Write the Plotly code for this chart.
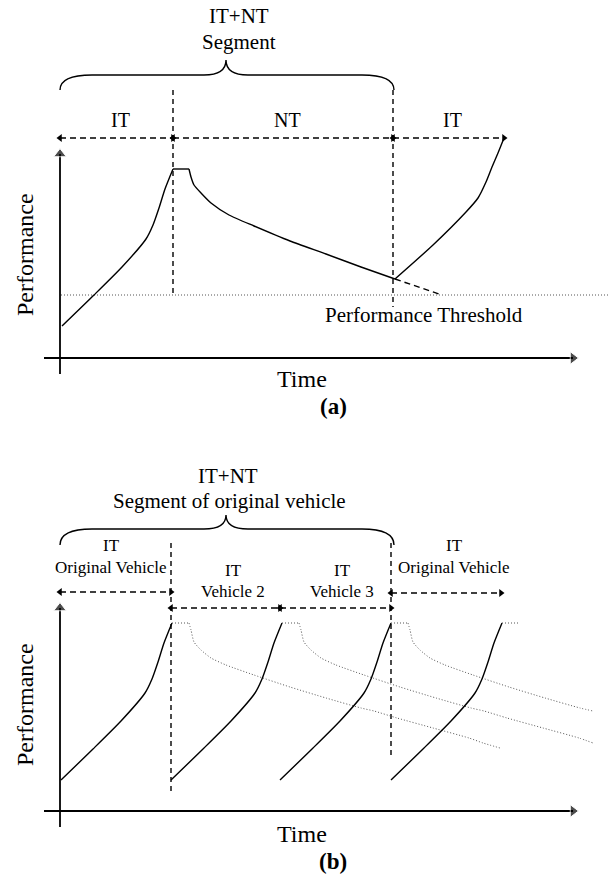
import plotly.graph_objects as go

FONT = "Liberation Serif, Times New Roman, serif"
INK = "#000000"
GREY = "#555555"

# ---- panel (a): time / performance (origin = axes corner)
A_RISE_T = [2, 34, 62, 86, 93, 99, 105, 113]
A_RISE_P = [32, 63, 91, 119, 133, 150, 169, 189]
A_TOP_T = [113, 129]
A_TOP_P = [189, 189]
A_DECAY_T = [129, 131, 134, 141, 151, 169, 194, 230, 266, 301, 335]
A_DECAY_P = [189, 181, 173, 165, 155, 143, 132, 117, 104, 91, 79]
A_TAIL_T = [335, 382]
A_TAIL_P = [79, 63]
A_RISE2_T = [335, 373, 406, 418, 426, 432, 438, 444]
A_RISE2_P = [79, 113, 146, 160, 176, 191, 205, 220]
A_THRESHOLD = 63
A_SPLITS = [113, 333]
A_SPAN_LABELS = ["IT", "NT", "IT"]
A_SPANS = [(0, 113), (113, 333), (333, 444)]

# ---- panel (b): one IT rise profile, repeated per vehicle, plus NT decay profile
RISE_DT = [0, 32, 60, 84, 91, 97, 103, 111]
RISE_DP = [0, 31, 59, 87, 101, 118, 137, 157]
B_STARTS = [1, 111, 220, 331]
B_BASE = 31
TOP_LEN = 17
DECAY_DT = [0, 2, 5, 12, 22, 37, 65, 101, 137, 172, 185, 208, 244, 280, 294, 311]
DECAY_DP = [0, 7, 19, 27, 35, 42, 52, 64, 75, 85, 88, 95, 105, 115, 120, 125]
DECAY_END = [311, 294, 185]
B_SPLITS = [111, 331]
B_SPANS = [(0, 111, 219), (111, 220, 203), (220, 331, 203), (331, 441, 218)]
B_SPAN_LABELS = [("IT", "Original Vehicle"), ("IT", "Vehicle 2"),
                 ("IT", "Vehicle 3"), ("IT", "Original Vehicle")]
B_LABEL_POS = [(51, 266, 244), (173, 241, 220), (282, 241, 220), (394, 266, 244)]

fig = go.Figure()


def line(t, p, ax, color=INK, width=1.4, dash=None, shape="spline"):
    fig.add_trace(go.Scatter(
        x=t, y=p, mode="lines", xaxis=ax[0], yaxis=ax[1],
        line=dict(color=color, width=width, dash=dash, shape=shape, smoothing=0.6),
        hoverinfo="skip", showlegend=False,
    ))


def arrow(t0, t1, p, ax):
    fig.add_trace(go.Scatter(
        x=[t0, t1], y=[p, p], mode="lines+markers", xaxis=ax[0], yaxis=ax[1],
        line=dict(color=INK, width=1.6, dash="6px,4px"),
        marker=dict(symbol=["triangle-left", "triangle-right"], size=7, color=INK),
        hoverinfo="skip", showlegend=False,
    ))


def axes_arrows(ax, ytop):
    fig.add_trace(go.Scatter(
        x=[0, 0], y=[-16, ytop], mode="lines+markers", xaxis=ax[0], yaxis=ax[1],
        line=dict(color=INK, width=1.8),
        marker=dict(symbol="triangle-up", size=[0, 11], color=INK),
        hoverinfo="skip", showlegend=False,
    ))
    fig.add_trace(go.Scatter(
        x=[-16, 513], y=[0, 0], mode="lines+markers", xaxis=ax[0], yaxis=ax[1],
        line=dict(color=INK, width=1.8),
        marker=dict(symbol="triangle-right", size=[0, 11], color=INK),
        hoverinfo="skip", showlegend=False,
    ))


def text(t, p, s, ax, size=20, bold=False, angle=0):
    fig.add_annotation(
        x=t, y=p, xref=ax[0], yref=ax[1], text=f"<b>{s}</b>" if bold else s,
        showarrow=False, textangle=angle, xanchor="center", yanchor="middle",
        font=dict(family=FONT, size=size, color=INK),
    )


def brace(t0, t1, tm, pe, pt, ptip, ax):
    r, rt = 32, 22
    path = (f"M {t0},{pe} Q {t0},{pt} {t0 + r},{pt} L {tm - rt},{pt} "
            f"Q {tm},{pt} {tm},{ptip} Q {tm},{pt} {tm + rt},{pt} "
            f"L {t1 - r},{pt} Q {t1},{pt} {t1},{pe}")
    fig.add_shape(type="path", path=path, xref=ax[0], yref=ax[1],
                  line=dict(color=INK, width=1.4))


A = ("x", "y")
B = ("x2", "y2")

# ───────────────────────── panel (a)
axes_arrows(A, 204)
line([1, 550], [A_THRESHOLD, A_THRESHOLD], A, color=GREY, width=1, dash="1px,2px")
for s in A_SPLITS:
    line([s, s], [268, 63 if s == A_SPLITS[0] else 51], A, width=1.4, dash="5px,4px")
line(A_RISE_T, A_RISE_P, A)
line(A_TOP_T, A_TOP_P, A, shape="linear")
line(A_DECAY_T, A_DECAY_P, A)
line(A_TAIL_T, A_TAIL_P, A, dash="6px,4px", shape="linear")
line(A_RISE2_T, A_RISE2_P, A)
for (t0, t1), lab in zip(A_SPANS, A_SPAN_LABELS):
    arrow(t0, t1, 220, A)
    text((t0 + t1) / 2 + 4, 238, lab, A, size=20)
brace(0, 334, 166, 268, 283, 298, A)
text(179, 342, "IT+NT", A, size=21)
text(179, 316, "Segment", A, size=21)
text(364, 43, "Performance Threshold", A, size=21)
text(-35, 103, "Performance", A, size=24, angle=-90)
text(242, -21, "Time", A, size=24)
text(273, -48, "(a)", A, size=23, bold=True)

# ───────────────────────── panel (b)
axes_arrows(B, 203)
line([B_SPLITS[0]] * 2, [268, 16], B, dash="5px,4px", shape="linear")
line([B_SPLITS[1]] * 2, [268, 53], B, dash="5px,4px", shape="linear")
for i, t0 in enumerate(B_STARTS):
    peak_t = t0 + RISE_DT[-1]
    peak_p = B_BASE + RISE_DP[-1]
    line([t0 + d for d in RISE_DT], [B_BASE + d for d in RISE_DP], B)
    line([peak_t, peak_t + TOP_LEN], [peak_p, peak_p], B, color=GREY, width=1,
         dash="1px,2px", shape="linear")
    if i < len(DECAY_END):
        keep = [k for k, d in enumerate(DECAY_DT) if d <= DECAY_END[i]]
        line([peak_t + TOP_LEN + DECAY_DT[k] for k in keep],
             [peak_p - DECAY_DP[k] for k in keep], B, color=GREY, width=1,
             dash="1px,2px")
for (t0, t1, p), (l1, l2), (tx, p1, p2) in zip(B_SPANS, B_SPAN_LABELS, B_LABEL_POS):
    arrow(t0, t1, p, B)
    text(tx, p1, l1, B, size=17)
    text(tx, p2, l2, B, size=17)
brace(0, 334, 166, 266, 282, 296, B)
text(168, 335, "IT+NT", B, size=21)
text(169, 310, "Segment of original vehicle", B, size=21)
text(-35, 106, "Performance", B, size=24, angle=-90)
text(242, -23, "Time", B, size=24)
text(273, -50, "(b)", B, size=23, bold=True)

hidden = dict(visible=False, showgrid=False, zeroline=False, fixedrange=True)
fig.update_layout(
    width=610, height=874,
    margin=dict(l=0, r=0, t=0, b=0),
    paper_bgcolor="white", plot_bgcolor="white",
    xaxis=dict(hidden, domain=[0, 1], range=[-60, 550]),
    yaxis=dict(hidden, domain=[0.5, 1], range=[-79, 358]),
    xaxis2=dict(hidden, domain=[0, 1], range=[-60, 550], anchor="y2"),
    yaxis2=dict(hidden, domain=[0, 0.5], range=[-63, 374], anchor="x2"),
    showlegend=False,
)

fig.write_html("out.html", config={"displayModeBar": False},
               post_script="document.body.style.margin='0';document.body.style.overflow='hidden';")
